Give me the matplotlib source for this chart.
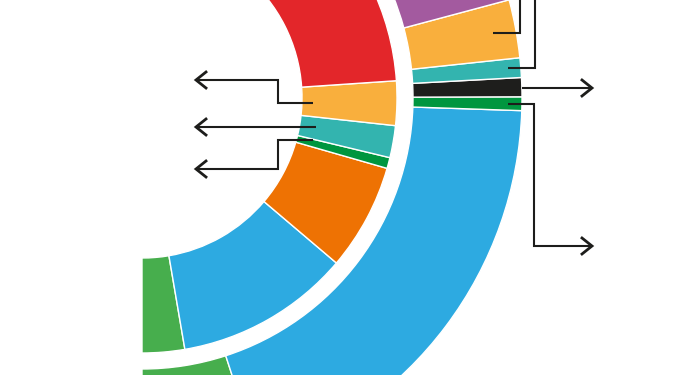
import matplotlib
matplotlib.use("Agg")
import matplotlib.pyplot as plt

# shares of each ring (percent of full circle); the last entry is the part
# of the ring that lies outside the visible crop
inner_labels = ['green', 'blue', 'orange', 'dark green', 'teal', 'yellow', 'red', 'hidden']
inner_values = [2.69, 11.11, 6.75, 0.69, 2.03, 2.81, 12.8, 61.12]
inner_colors = ['#47AE4D', '#2DAAE1', '#EE7203', '#00963F', '#33B4AF', '#F9AF3D', '#E3262A', 'none']

outer_labels = ['green', 'blue', 'dark green', 'black', 'teal', 'yellow', 'purple', 'hidden']
outer_values = [5.0, 19.47, 0.58, 0.81, 0.83, 2.47, 4.2, 66.64]
outer_colors = ['#47AE4D', '#2DAAE1', '#00963F', '#1E1E1C', '#33B4AF', '#F9AF3D', '#A35A9F', 'none']

W, H = 700, 375
center = (142, H - 98)
line_col = '#1d1d1b'

fig = plt.figure(figsize=(7, 3.75), dpi=100)
ax = fig.add_axes([0, 0, 1, 1])


def ring(values, colors, radius, width):
    wedges, _ = ax.pie(values, colors=colors, radius=radius, center=center,
                       startangle=270, counterclock=True, frame=True,
                       wedgeprops=dict(width=width, edgecolor='white', linewidth=1))
    wedges[-1].set_visible(False)
    return wedges


ring(inner_values, inner_colors, 255, 95)
ring(outer_values, outer_colors, 380, 109)


def leader(pts, arrow=None):
    # pts in image coords (y down)
    xs = [p[0] for p in pts]
    ys = [H - p[1] for p in pts]
    ax.plot(xs, ys, color=line_col, lw=1.5, solid_joinstyle='miter',
            solid_capstyle='butt')
    if arrow:
        tx, ty = pts[-1]
        d = 1 if arrow == 'right' else -1
        ax.plot([tx - d * 10, tx, tx - d * 10], [H - ty + 8, H - ty, H - ty - 8],
                color=line_col, lw=2, solid_joinstyle='miter')


# right side leaders
leader([(493, 33), (520, 33), (520, 0)])
leader([(508, 68), (535, 68), (535, 0)])
leader([(522, 88), (592, 88)], 'right')
leader([(508, 104), (534, 104), (534, 246), (592, 246)], 'right')

# left side leaders
leader([(313, 103), (278, 103), (278, 80), (196, 80)], 'left')
leader([(316, 127), (196, 127)], 'left')
leader([(313, 140), (278, 140), (278, 169), (196, 169)], 'left')

ax.set_xlim(0, W)
ax.set_ylim(0, H)
ax.set_aspect('equal')
ax.axis('off')

fig.savefig('out.png', dpi=100)
